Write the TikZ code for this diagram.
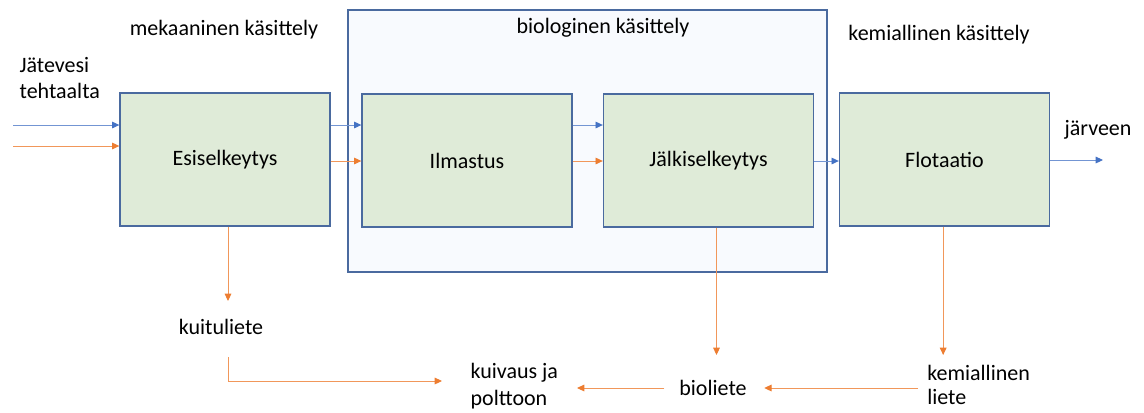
\documentclass[tikz,border=0pt]{standalone}
\usepackage{fontspec}
\setmainfont{Carlito}
\usetikzlibrary{arrows.meta}
\definecolor{boxline}{HTML}{4A6A9F}
\definecolor{boxfill}{HTML}{DFEBD8}
\definecolor{contfill}{HTML}{F8FAFE}
\definecolor{bluel}{HTML}{4472C4}
\definecolor{orangel}{HTML}{ED7D31}
\tikzset{
  procbox/.style={draw=boxline, fill=boxfill, line width=1pt, minimum width=157.5pt, minimum height=99.75pt, font=\fontsize{16.5}{20}\selectfont},
  contbox/.style={draw=boxline, fill=contfill, line width=1pt, minimum width=359.25pt, minimum height=196.5pt},
  lbl/.style={font=\fontsize{16.5}{20}\selectfont, inner sep=1pt},
  lbll/.style={lbl, align=left, anchor=west},
  bluearrow/.style={draw=bluel!75, line width=0.7pt, -{Triangle[length=5.5pt,width=5pt,fill=bluel,color=bluel]}},
  orangearrow/.style={draw=orangel!80, line width=0.7pt, -{Triangle[length=5.5pt,width=5pt,fill=orangel,color=orangel]}}
}
\begin{document}
\begin{tikzpicture}[x=0.75pt,y=-0.75pt]
\useasboundingbox (0,0) rectangle (1144,412);
% container
\node[contbox] (cont) at (587.5,141) {};
% process boxes
\node[procbox] (esi) at (225,159.5) {Esiselkeytys};
\node[procbox] (ilm) at (467,160.5) {Ilmastus};
\node[procbox] (jal) at (708.5,160.5) {Jälkiselkeytys};
\node[procbox] (flo) at (944.5,159.5) {Flotaatio};
% headings
\node[lbl] (hmek) at (224,30) {mekaaninen käsittely};
\node[lbl] (hbio) at (603,28) {biologinen käsittely};
\node[lbl] (hkem) at (939,35) {kemiallinen käsittely};
% texts
\node[lbll] (jat) at (18,78) {Jätevesi\\tehtaalta};
\node[lbl] (jar) at (1098,130) {järveen};
\node[lbl] (kui) at (221,327) {kuituliete};
\node[lbll] (kuiv) at (469,386) {kuivaus ja\\polttoon};
\node[lbl] (bio) at (713,388) {bioliete};
\node[lbll, font=\fontsize{16.5}{18.5}\selectfont, inner sep=0pt] (kem) at (927,385) {kemiallinen\\liete};
% free ends
\coordinate (inb) at (13,125);
\coordinate (ino) at (13,146);
\coordinate (outb) at (1103,160);
% input
\draw[bluearrow] (inb) -- (esi.west |- inb);
\draw[orangearrow] (ino) -- (esi.west |- ino);
% between boxes
\draw[bluearrow] (esi.east |- inb) -- (ilm.west |- inb);
\draw[orangearrow] (esi.east |- 0,161) -- (ilm.west |- 0,161);
\draw[bluearrow] (ilm.east |- inb) -- (jal.west |- inb);
\draw[orangearrow] (ilm.east |- 0,161) -- (jal.west |- 0,161);
\draw[bluearrow] (jal.east |- 0,161) -- (flo.west |- 0,161);
\draw[bluearrow] (flo.east |- outb) -- (outb);
% sludge
\draw[orangearrow] ([xshift=2.25pt]esi.south) -- ([xshift=2.25pt]esi.south |- 0,301);
\draw[orangearrow] (228,357) |- (442,381);
\draw[orangearrow] ([xshift=6pt]jal.south) -- ([xshift=6pt]jal.south |- 0,355);
\draw[orangearrow] ([xshift=-1pt]flo.south) -- ([xshift=-1pt]flo.south |- 0,355);
\draw[orangearrow] (918,388) -- ([xshift=12pt]bio.east);
\draw[orangearrow] ([xshift=-10pt]bio.west) -- (577,388);
\end{tikzpicture}
\end{document}
